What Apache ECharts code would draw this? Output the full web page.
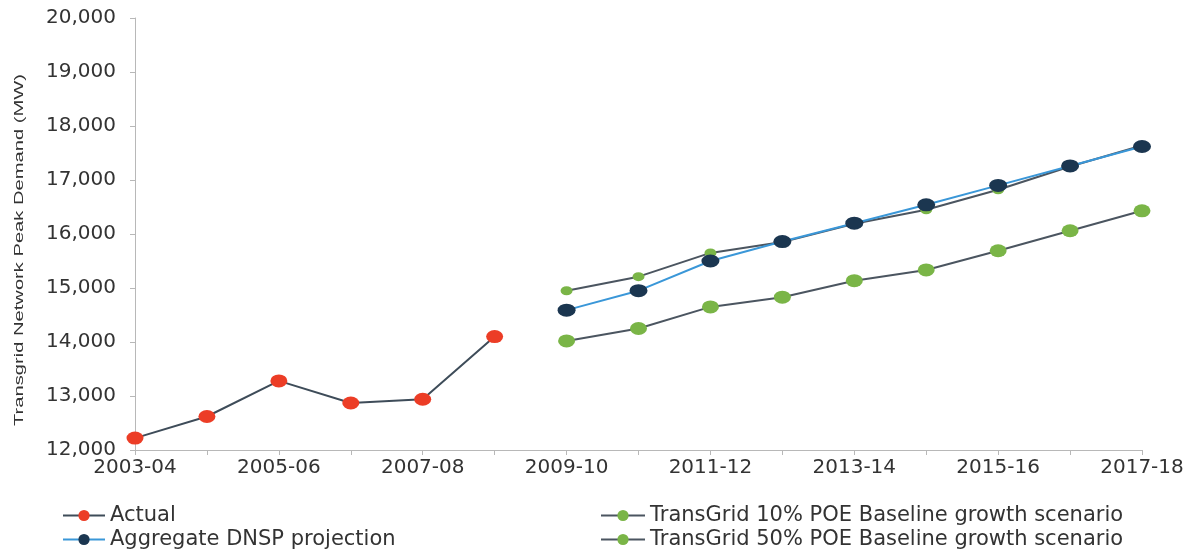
<!DOCTYPE html>
<html>
<head>
<meta charset="utf-8">
<title>Transgrid Network Peak Demand</title>
<script src="https://cdn.jsdelivr.net/npm/echarts@6/dist/echarts.min.js"></script>
<style>
  html, body { margin: 0; padding: 0; background: #ffffff; }
  #chart { width: 1194px; height: 553px; }
</style>
</head>
<body>
<div id="chart"></div>
<script>
// Financial years shown on the horizontal axis
const years = ['2003-04', '2004-05', '2005-06', '2006-07', '2007-08', '2008-09', '2009-10',
  '2010-11', '2011-12', '2012-13', '2013-14', '2014-15', '2015-16', '2016-17', '2017-18'];

// Peak demand in MW (null where a series has no value)
const actual = [12220, 12620, 13280, 12870, 12940, 14100, null, null, null, null, null, null, null, null, null];
const dnsp = [null, null, null, null, null, null, 14590, 14950, 15500, 15860, 16200, 16540, 16900, 17260, 17620];
const poe10 = [null, null, null, null, null, null, 14950, 15210, 15650, 15850, 16190, 16450, 16820, 17250, 17640];
const poe50 = [null, null, null, null, null, null, 14020, 14250, 14650, 14830, 15135, 15335, 15690, 16060, 16430];

const seriesNames = ['Actual', 'Aggregate DNSP projection',
  'TransGrid 10% POE Baseline growth scenario', 'TransGrid 50% POE Baseline growth scenario'];

const yTicks = { min: 12000, max: 20000, interval: 1000 };
const yTitle = 'Transgrid Network Peak Demand (MW)';

const wideFont = 'DejaVu Sans, Verdana, sans-serif';
const chart = echarts.init(document.getElementById('chart'), null, { renderer: 'canvas' });

const legendText = { color: '#333', fontSize: 21, fontFamily: wideFont, lineHeight: 21 };

chart.setOption({
  animation: false,
  backgroundColor: '#ffffff',
  grid: { left: 135, right: 52, top: 18, bottom: 103 },
  // vertical axis title: a narrow, tall lettering
  graphic: [{
    type: 'text',
    x: 19, y: 250,
    rotation: Math.PI / 2,
    scaleX: 1.55, scaleY: 1,
    style: {
      text: yTitle,
      font: '13px "Liberation Sans", Arial, sans-serif',
      fill: '#333',
      align: 'center', verticalAlign: 'middle'
    }
  }],
  legend: [
    {
      data: [seriesNames[0], seriesNames[1]],
      orient: 'vertical', left: 62, top: 505, height: 80, itemGap: 3,
      padding: 0, itemWidth: 42, itemHeight: 14, itemGap: 3,
      textStyle: legendText
    },
    {
      data: [seriesNames[2], seriesNames[3]],
      orient: 'vertical', left: 600, top: 505, height: 80, itemGap: 3,
      padding: 0, itemWidth: 44, itemHeight: 14,
      textStyle: legendText
    }
  ],
  xAxis: {
    type: 'category',
    data: years,
    boundaryGap: false,
    axisLine: { lineStyle: { color: '#b8b8b8', width: 1 } },
    axisTick: { show: true, interval: 0, length: 5, lineStyle: { color: '#b8b8b8' } },
    axisLabel: { interval: 1, color: '#333', fontSize: 20, fontFamily: wideFont, margin: 8 },
    splitLine: { show: false }
  },
  yAxis: {
    type: 'value',
    min: yTicks.min, max: yTicks.max, interval: yTicks.interval,
    axisLine: { show: true, lineStyle: { color: '#b8b8b8', width: 1 } },
    axisTick: { show: true, length: 5, lineStyle: { color: '#b8b8b8' } },
    axisLabel: {
      color: '#333', fontSize: 20, fontFamily: wideFont, margin: 19,
      formatter: v => v.toLocaleString('en-US')
    },
    splitLine: { show: false }
  },
  series: [
    {
      name: seriesNames[0], type: 'line', data: actual,
      symbol: 'circle', symbolSize: [17, 13], z: 3,
      lineStyle: { color: '#3e4c59', width: 2 },
      itemStyle: { color: '#ec3d26' }
    },
    {
      name: seriesNames[3], type: 'line', data: poe50,
      symbol: 'circle', symbolSize: [17, 13], z: 2,
      lineStyle: { color: '#4b5560', width: 2 },
      itemStyle: { color: '#7ab547' }
    },
    {
      name: seriesNames[2], type: 'line', data: poe10,
      symbol: 'circle', symbolSize: [12, 9], z: 2,
      lineStyle: { color: '#4b5560', width: 2 },
      itemStyle: { color: '#7ab547' }
    },
    {
      name: seriesNames[1], type: 'line', data: dnsp,
      symbol: 'circle', symbolSize: [18, 13], z: 4,
      lineStyle: { color: '#3a97d8', width: 2 },
      itemStyle: { color: '#1b3650' }
    }
  ]
});
</script>
</body>
</html>
